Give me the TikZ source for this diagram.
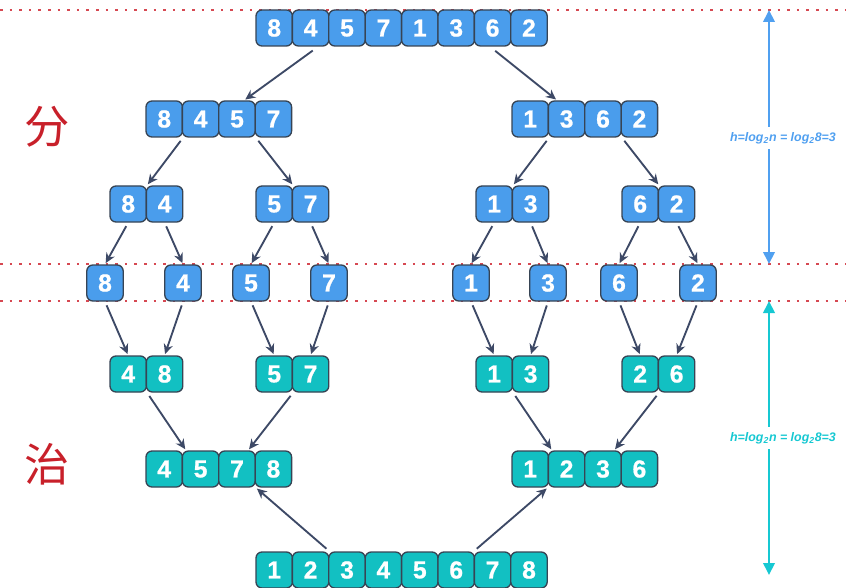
\documentclass[tikz,border=0pt]{standalone}
\usepackage{fontspec}
\usepackage{xcolor}
\usepackage{tikz}
\usetikzlibrary{arrows.meta}
\setsansfont{Liberation Sans}[BoldFont={Liberation Sans Bold},
  BoldItalicFont={Liberation Sans Bold Italic}]
\newfontfamily\cellfont{Liberation Sans Bold}[FakeBold=0.8]
\newfontfamily\cjk{Noto Sans CJK SC}

\definecolor{cellblue}{RGB}{74,157,236}
\definecolor{cellteal}{RGB}{18,192,194}
\definecolor{cellline}{RGB}{55,68,84}
\definecolor{arrcol}{RGB}{61,73,102}
\definecolor{dotred}{RGB}{214,72,82}
\definecolor{hblue}{RGB}{80,160,240}
\definecolor{hteal}{RGB}{22,200,210}
\definecolor{hanred}{RGB}{200,32,42}

% one row of touching cells: name, left x, centre y, style, values
\newcommand{\cellrow}[5]{%
  \foreach \v [count=\i] in {#5}
    \node[#4] (#1-\i) at ({#2+36.4*(\i-0.5)},#3) {\v};}

\begin{document}
\begin{tikzpicture}[x=0.75pt,y=-0.75pt,
  cell/.style={rectangle,draw=cellline,line width=1pt,rounded corners=4.5pt,
               minimum width=27.3pt,minimum height=27pt,inner sep=0pt,
               text=white,font=\cellfont\fontsize{18.5}{18.5}\selectfont},
  bcell/.style={cell,fill=cellblue},
  tcell/.style={cell,fill=cellteal},
  arr/.style={-{Stealth[length=7.5pt,width=7pt]},line width=1.4pt,arrcol,
              shorten <=3pt,shorten >=1pt},
  divider/.style={dotred,line width=1.6pt,dash pattern=on 2pt off 5.2pt},
  varr/.style={-{Triangle[length=9pt,width=8.5pt]},line width=2pt},
  hlbl/.style={font=\sffamily\bfseries\itshape\fontsize{9.3}{10}\selectfont,inner sep=4pt},
  han/.style={font=\cjk\fontsize{34}{34}\selectfont,text=hanred}
]
\useasboundingbox (0,0) rectangle (846,588);

% level lines
\draw[divider] (0,10) -- (846,10);
\draw[divider] (0,264) -- (846,264);
\draw[divider] (0,301) -- (846,301);

% divide
\cellrow{src}{256}{28}{bcell}{8,4,5,7,1,3,6,2}
\cellrow{hl}{146}{119}{bcell}{8,4,5,7}
\cellrow{hr}{512}{119}{bcell}{1,3,6,2}
\cellrow{q1}{110}{204}{bcell}{8,4}
\cellrow{q2}{256}{204}{bcell}{5,7}
\cellrow{q3}{476}{204}{bcell}{1,3}
\cellrow{q4}{622}{204}{bcell}{6,2}
\foreach \v/\x [count=\i] in {8/105,4/183,5/251,7/329,1/471,3/548,6/619,2/698}
  \node[bcell] (s\i) at (\x,283) {\v};

% conquer
\cellrow{m1}{110}{374}{tcell}{4,8}
\cellrow{m2}{256}{374}{tcell}{5,7}
\cellrow{m3}{476}{374}{tcell}{1,3}
\cellrow{m4}{622}{374}{tcell}{2,6}
\cellrow{ml}{146}{469}{tcell}{4,5,7,8}
\cellrow{mr}{512}{469}{tcell}{1,2,3,6}
\cellrow{out}{256}{570}{tcell}{1,2,3,4,5,6,7,8}

\node[han] (fen) at (47,127) {分};
\node[han] (zhi) at (47,464) {治};

\draw[arr,shorten <=5pt] (src-2.-68) -- (hl-3.69);
\draw[arr,shorten <=5pt] (src-7.-98) -- (hr-2.117);
\draw[arr] (hl-1.south east) -- (q1-1.north east);
\draw[arr] (hl-3.south east) -- (q2-1.north east);
\draw[arr] (hr-1.south east) -- (q3-1.north east);
\draw[arr] (hr-3.south east) -- (q4-1.north east);
\foreach \p/\a/\b in {1/1/2,2/3/4,3/5/6,4/7/8} {
  \draw[arr] (q\p-1.south) -- (s\a.north);
  \draw[arr] (q\p-2.south) -- (s\b.north);
  \draw[arr] (s\a.south) -- (m\p-1.north);
  \draw[arr] (s\b.south) -- (m\p-2.north);
}
\draw[arr] (m1-1.south east) -- (ml-2.128);
\draw[arr] (m2-1.south east) -- (ml-3.59);
\draw[arr] (m3-1.south east) -- (mr-2.128);
\draw[arr] (m4-1.south east) -- (mr-3.59);
\draw[arr] (out-2.north east) -- (ml-3.south east);
\draw[arr] (out-7.north west) -- (mr-2.south west);

% height marks
\coordinate (bt) at (769,10);
\coordinate (bb) at (769,264);
\coordinate (tt) at (769,301);
\coordinate (tb) at (769,575);
\node[hlbl,text=hblue] (hb) at (783,138) {h=log\textsubscript{2}n = log\textsubscript{2}8=3};
\node[hlbl,text=hteal] (ht) at (783,438) {h=log\textsubscript{2}n = log\textsubscript{2}8=3};
\draw[varr,hblue] (bt |- hb.north) -- (bt);
\draw[varr,hblue] (bb |- hb.south) -- (bb);
\draw[varr,hteal] (tt |- ht.north) -- (tt);
\draw[varr,hteal] (tb |- ht.south) -- (tb);
\end{tikzpicture}
\end{document}
